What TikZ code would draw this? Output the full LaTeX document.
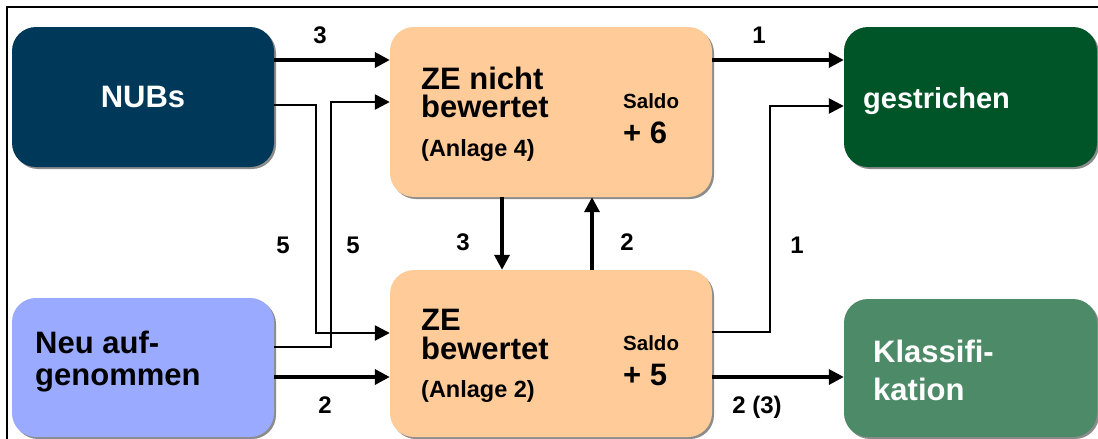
\documentclass[tikz,border=0pt]{standalone}
\usepackage{fontspec}
\setmainfont{Liberation Sans}
\usetikzlibrary{arrows.meta,shadows}
\definecolor{cnub}{RGB}{0,56,89}
\definecolor{cneu}{RGB}{153,170,255}
\definecolor{cze}{RGB}{255,204,153}
\definecolor{cges}{RGB}{0,85,40}
\definecolor{ckla}{RGB}{77,139,104}
\tikzset{
  box/.style={rectangle, rounded corners=24pt, inner sep=0pt, draw=none,
    drop shadow={shadow xshift=2pt, shadow yshift=-2pt, fill=black, opacity=0.45}},
  big/.style={font=\bfseries\fontsize{31}{34}\selectfont, inner sep=0pt, anchor=base west},
  mid/.style={font=\bfseries\fontsize{23.5}{26}\selectfont, inner sep=0pt, anchor=base west},
  sal/.style={font=\bfseries\fontsize{20.5}{23}\selectfont, inner sep=0pt, anchor=base west},
  lab/.style={font=\bfseries\fontsize{24}{26}\selectfont, inner sep=0pt, anchor=base},
  arr/.style={line width=3.5pt, -{Triangle[length=15pt,width=15pt]}},
  arrthin/.style={line width=2.5pt, -{Triangle[length=15pt,width=15pt]}},
}
\begin{document}
\begin{tikzpicture}[x=1pt,y=-1pt]
\useasboundingbox (0,0) rectangle (1098,439);
\clip (0,0) rectangle (1098,439);
\fill[white] (0,0) rectangle (1098,439);
\draw[line width=2pt] (7,460) -- (7,7) -- (1120,7);

\node[box, fill=cnub, minimum width=262pt, minimum height=140pt, text=white,
      font=\bfseries\fontsize{31}{34}\selectfont] (nubs) at (143,97) {NUBs};
\node[box, fill=cneu, minimum width=262pt, minimum height=139pt] (neu) at (143,367.5) {};
\node[box, fill=cze, minimum width=322pt, minimum height=170pt] (zen) at (551,112) {};
\node[box, fill=cze, minimum width=322pt, minimum height=167pt] (zeb) at (551,353.5) {};
\node[box, fill=cges, minimum width=253pt, minimum height=140pt] (ges) at (970.5,97) {};
\node[box, fill=ckla, minimum width=253pt, minimum height=138pt] (kla) at (970.5,368) {};

% texts
\node[big] (t1) at (35,353) {Neu auf-};
\node[big] (t2) at (35,385) {genommen};
\node[big] (t3) at (421,89) {ZE nicht};
\node[big] (t4) at (421,117) {bewertet};
\node[mid] (t5) at (421,156) {(Anlage 4)};
\node[sal] (t6) at (623,108) {Saldo};
\node[big] (t7) at (623,143) {+ 6};
\node[big] (t8) at (421,330) {ZE};
\node[big] (t9) at (421,359) {bewertet};
\node[mid] (t10) at (421,397) {(Anlage 2)};
\node[sal] (t11) at (623,350) {Saldo};
\node[big] (t12) at (623,385) {+ 5};
\node[big, text=white, font=\bfseries\fontsize{29}{32}\selectfont] (t13) at (863,108) {gestrichen};
\node[big, text=white] (t14) at (873,362) {Klassifi-};
\node[big, text=white] (t15) at (873,400) {kation};

% connectors
\draw[arr] (nubs.east |- 0,60) -- (zen.west |- 0,60);
\draw[arrthin] (nubs.east |- 0,105) -- (316,105) -- (316,333) -- (zeb.west |- 0,333);
\draw[arrthin] (neu.east |- 0,347) -- (331,347) -- (331,102) -- (zen.west |- 0,102);
\draw[arr] (neu.east |- 0,377) -- (zeb.west |- 0,377);
\draw[arr] (zen.south -| 502,0) -- (zeb.north -| 502,0);
\draw[arr] (zeb.north -| 592,0) -- (zen.south -| 592,0);
\draw[arr] (zen.east |- 0,60) -- (ges.west |- 0,60);
\draw[arrthin] (zeb.east |- 0,332) -- (770,332) -- (770,106) -- (ges.west |- 0,106);
\draw[arr] (zeb.east |- 0,377) -- (kla.west |- 0,377);

% labels
\node[lab] (l1) at (320,43) {3};
\node[lab] (l2) at (759,43) {1};
\node[lab] (l3) at (283,253) {5};
\node[lab] (l4) at (353,253) {5};
\node[lab] (l5) at (325,413) {2};
\node[lab] (l6) at (463,250) {3};
\node[lab] (l7) at (627,250) {2};
\node[lab] (l8) at (797,253) {1};
\node[lab] (l9) at (757,413) {2 (3)};
\end{tikzpicture}
\end{document}
